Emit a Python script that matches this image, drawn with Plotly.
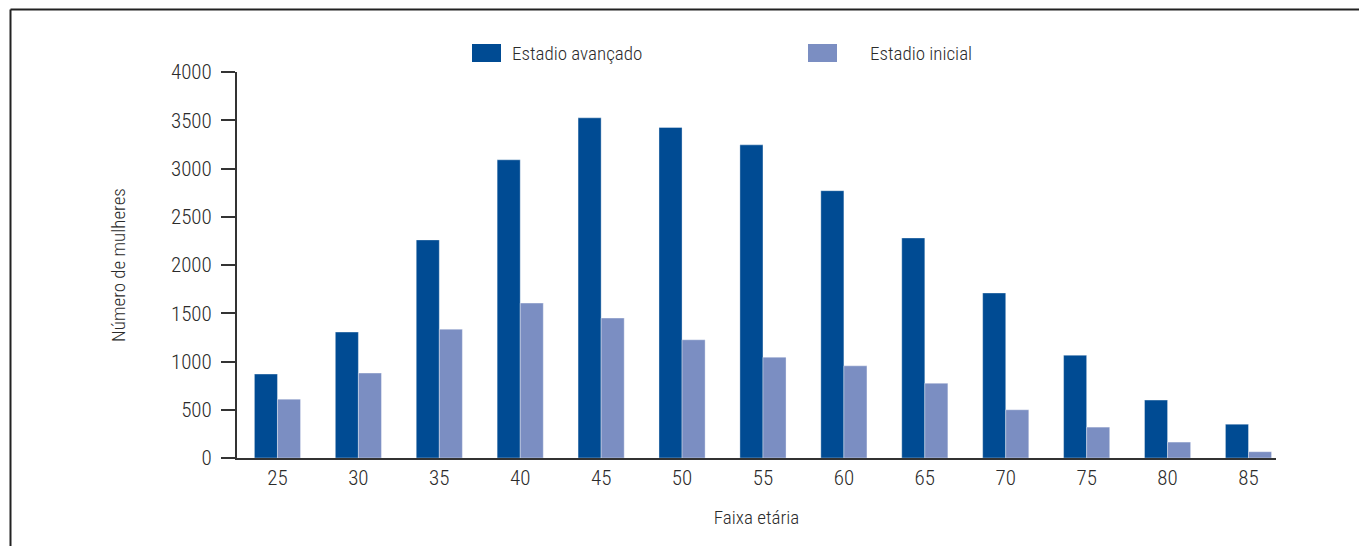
import plotly.graph_objects as go

# Age groups and counts of women per stage
faixa_etaria = ["25", "30", "35", "40", "45", "50", "55", "60", "65", "70", "75", "80", "85"]
estadio_avancado = [870, 1305, 2260, 3090, 3525, 3425, 3245, 2770, 2280, 1710, 1065, 600, 350]
estadio_inicial = [610, 880, 1335, 1605, 1450, 1225, 1045, 955, 775, 500, 320, 165, 65]
series_names = ["Estadio avançado", "Estadio inicial"]
series_colors = ["#004b93", "#7b8ec2"]

W, H = 1359, 546
L, R, T, B = 237, 1276, 72, 458
FONT = "Roboto Condensed, sans-serif"
TEXT = "#2b2b2b"


def px(x):
    return (x - L) / (R - L)


def py(y):
    return (B - y) / (B - T)


fig = go.Figure()
for name, vals, col in zip(series_names, [estadio_avancado, estadio_inicial], series_colors):
    fig.add_trace(go.Bar(
        x=faixa_etaria, y=vals, name=name,
        marker=dict(color=col, line=dict(width=0.6, color="rgba(255,255,255,0.6)")),
        showlegend=False,
    ))

shapes = [
    # outer frame (top and left edges)
    dict(type="line", xref="paper", yref="paper", x0=px(10.5), x1=px(W + 5), y0=py(9.5), y1=py(9.5),
         line=dict(color="#222", width=2)),
    dict(type="line", xref="paper", yref="paper", x0=px(10.5), x1=px(10.5), y0=py(9.5), y1=py(H + 5),
         line=dict(color="#222", width=2)),
]
annotations = []
# legend swatches and labels
for (x0, tx), name, col in zip([(472, 510), (808, 868)], series_names, series_colors):
    shapes.append(dict(type="rect", xref="paper", yref="paper", x0=px(x0), x1=px(x0 + 29),
                       y0=py(62), y1=py(44), fillcolor=col, line=dict(width=0)))
    annotations.append(dict(xref="paper", yref="paper", x=px(tx), y=py(53), text=name,
                            showarrow=False, xanchor="left", yanchor="middle",
                            font=dict(family=FONT, size=19, color=TEXT, weight=300)))

fig.update_layout(
    width=W, height=H,
    margin=dict(l=L, r=W - R, t=T, b=H - B, autoexpand=False),
    paper_bgcolor="white", plot_bgcolor="white",
    barmode="group", bargap=0.43, bargroupgap=0,
    font=dict(family=FONT, size=20, color=TEXT, weight=300),
    shapes=shapes, annotations=annotations,
    xaxis=dict(
        type="category", range=[-0.5, 12.34],
        showline=True, linecolor="#333", linewidth=2,
        ticks="", showgrid=False, zeroline=False,
        tickfont=dict(family=FONT, size=21, color=TEXT, weight=300),
        title=dict(text="Faixa etária", standoff=21, font=dict(family=FONT, size=19, color=TEXT, weight=300)),
    ),
    yaxis=dict(
        range=[0, 4000], tickvals=[0, 500, 1000, 1500, 2000, 2500, 3000, 3500, 4000],
        showline=True, linecolor="#333", linewidth=2,
        ticks="outside", ticklen=14, tickwidth=2, tickcolor="#333",
        showgrid=False, zeroline=False,
        ticklabelstandoff=5,
        tickfont=dict(family=FONT, size=21, color=TEXT, weight=300),
        title=dict(text="Número de mulheres", standoff=40, font=dict(family=FONT, size=19, color=TEXT, weight=300)),
    ),
)

fig.write_html("out.html")
